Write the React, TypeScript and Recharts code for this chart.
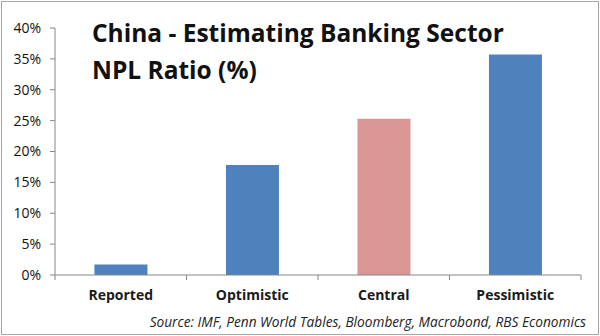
import { BarChart, Bar, XAxis, YAxis, Cell } from "recharts";

const categories = ["Reported", "Optimistic", "Central", "Pessimistic"];
const nplRatio = [1.7, 17.8, 25.3, 35.7];
const barColors = ["#4f81bd", "#4f81bd", "#d99694", "#4f81bd"];
const yTicks = [0, 5, 10, 15, 20, 25, 30, 35, 40];

const data = categories.map((name, i) => ({ name, value: nplRatio[i] }));

const FONT = "'Open Sans', 'Noto Sans', sans-serif";
const AXIS = "#868686";
const W = 600;
const H = 336;
const MARGIN = { top: 28, right: 19, bottom: 0, left: 0 };
const Y_AXIS_W = 55;
const HALF_BAND = (W - MARGIN.left - MARGIN.right - Y_AXIS_W) / categories.length / 2;

// Excel-style tick marks sit on category boundaries, not centres
function CategoryTick(props: any) {
  const { x, y, payload, index } = props;
  const last = index === categories.length - 1;
  return (
    <g>
      <line x1={x - HALF_BAND} x2={x - HALF_BAND} y1={y - 8} y2={y - 3} stroke={AXIS} />
      {last && <line x1={x + HALF_BAND} x2={x + HALF_BAND} y1={y - 8} y2={y - 3} stroke={AXIS} />}
      <text x={x} y={y + 17} textAnchor="middle" fontFamily={FONT} fontWeight={700} fontSize={14} fill="#1a1a1a">
        {payload.value}
      </text>
    </g>
  );
}

export default function App() {
  return (
    <div style={{ position: "fixed", left: 0, top: 0, width: W, height: H, background: "#fff" }}>
      <div style={{ position: "absolute", left: 1, top: 1, width: 596, height: 332, border: "1px solid #a6a6a6" }} />
      <BarChart width={W} height={H} data={data} margin={MARGIN} barCategoryGap="30%">
        <XAxis
          dataKey="name"
          height={61}
          stroke={AXIS}
          tickLine={false}
          tick={<CategoryTick />}
          interval={0}
        />
        <YAxis
          width={Y_AXIS_W}
          domain={[0, 40]}
          ticks={yTicks}
          tickFormatter={(v) => `${v}%`}
          stroke={AXIS}
          tickSize={5}
          tickMargin={9}
          tick={{ fill: "#111", fontSize: 14, fontFamily: FONT }}
          interval={0}
        />
        <Bar dataKey="value" isAnimationActive={false}>
          {data.map((d, i) => (
            <Cell key={d.name} fill={barColors[i]} />
          ))}
        </Bar>
      </BarChart>
      <div
        style={{
          position: "absolute",
          left: 92,
          top: 14,
          fontFamily: FONT,
          fontWeight: 700,
          fontSize: 24.5,
          lineHeight: "37px",
          color: "#111",
          whiteSpace: "nowrap",
        }}
      >
        China - Estimating Banking Sector
        <br />
        NPL Ratio (%)
      </div>
      <div
        style={{
          position: "absolute",
          right: 14,
          top: 312,
          fontFamily: FONT,
          fontStyle: "italic",
          fontSize: 13.7,
          color: "#222",
          whiteSpace: "nowrap",
        }}
      >
        Source: IMF, Penn World Tables, Bloomberg, Macrobond, RBS Economics
      </div>
    </div>
  );
}
